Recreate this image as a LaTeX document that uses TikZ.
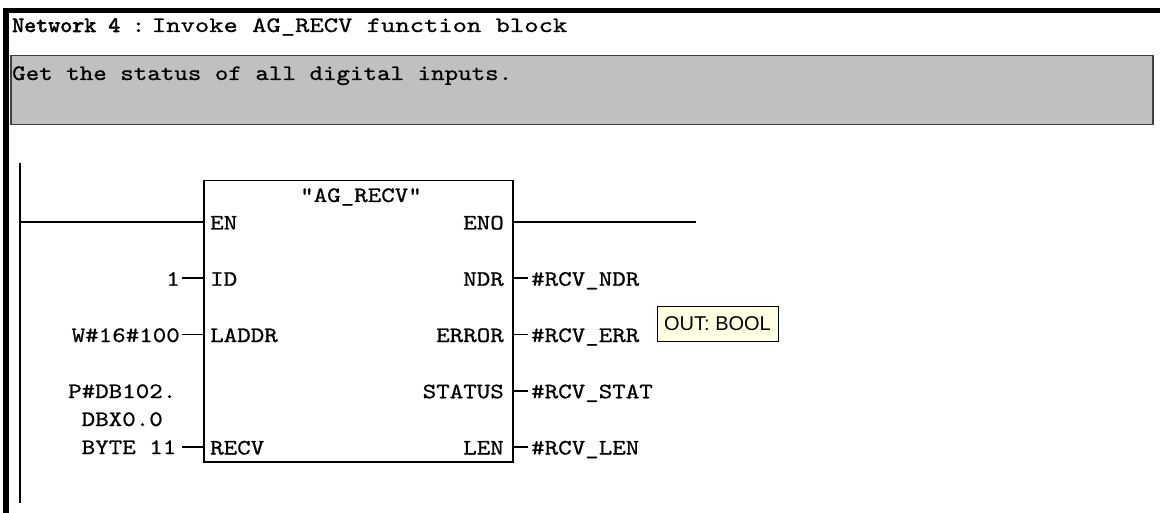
\documentclass[tikz,border=0pt]{standalone}
\usepackage{fontspec}
\newfontfamily\plcfont{lmmono10-regular.otf}[FakeStretch=1.17,FakeBold=0.8]
\newfontfamily\plcwide{lmmono10-regular.otf}[FakeStretch=1.24,FakeBold=0.8]
\newfontfamily\plcbold{lmmono10-regular.otf}[FakeStretch=1.04,FakeBold=2.5]
\setsansfont{Liberation Sans}
\definecolor{tipyellow}{HTML}{FFFFE1}
\definecolor{commentgray}{HTML}{C0C0C0}
\definecolor{framegray}{HTML}{404040}
\tikzset{
  plc/.style={font=\plcfont\fontsize{22}{28}\selectfont, inner sep=0pt},
  pinin/.style={plc, anchor=base west},
  pinout/.style={plc, anchor=base east},
  wire/.style={line width=1.5pt},
}
\begin{document}
\begin{tikzpicture}[x=1pt,y=-1pt]
\useasboundingbox (0,0) rectangle (1160,513);

\fill (3,8) rectangle (1160,13.5);
\fill (3,8) rectangle (9,513);

\node[plc, anchor=base west] (title) at (12,32) {{\plcbold Network 4}\kern11pt{\plcwide :\kern-8pt\ Invoke AG\_RECV function block}};
\node[draw=framegray, line width=1.5pt, fill=commentgray, minimum width=1142pt, minimum height=69pt, anchor=north west] (comment) at (10,55) {};
\node[plc, anchor=base west] (commenttext) at (12,80) {Get the status of all digital inputs.};

\coordinate (railtop) at (20,163);
\coordinate (railbot) at (20,503);
\draw[wire] (railtop) -- (railbot);

\node[draw, wire, minimum width=309pt, minimum height=281pt, anchor=north west, inner sep=0pt] (fb) at (203,180) {};
\node[plc, anchor=base] (fbname) at (361,202) {"AG\_RECV"};

\coordinate (railen) at (20,222);
\coordinate (en) at (203,222);
\coordinate (eno) at (512,222);
\coordinate (enoend) at (696,222);
\draw[wire] (railen) -- (en);
\draw[wire] (eno) -- (enoend);

\coordinate (idstub) at (182,278.25);
\coordinate (id) at (203,278.25);
\coordinate (laddrstub) at (182,334.5);
\coordinate (laddr) at (203,334.5);
\coordinate (recvstub) at (182,447);
\coordinate (recv) at (203,447);
\draw[wire] (idstub) -- (id);
\draw[wire] (laddrstub) -- (laddr);
\draw[wire] (recvstub) -- (recv);

\coordinate (ndr) at (512,278.25);
\coordinate (ndrstub) at (528,278.25);
\coordinate (error) at (512,334.5);
\coordinate (errorstub) at (528,334.5);
\coordinate (status) at (512,390.75);
\coordinate (statusstub) at (528,390.75);
\coordinate (len) at (512,447);
\coordinate (lenstub) at (528,447);
\draw[wire] (ndr) -- (ndrstub);
\draw[wire] (error) -- (errorstub);
\draw[wire] (status) -- (statusstub);
\draw[wire] (len) -- (lenstub);

\node[pinin] (enlabel) at (210,229.5) {EN};
\node[pinin] (idlabel) at (210,285.75) {ID};
\node[pinin] (laddrlabel) at (210,342) {LADDR};
\node[pinin] (recvlabel) at (210,454.5) {RECV};

\node[pinout] (enolabel) at (504,229.5) {ENO};
\node[pinout] (ndrlabel) at (504,285.75) {NDR};
\node[pinout] (errorlabel) at (504,342) {ERROR};
\node[pinout] (statuslabel) at (504,398.25) {STATUS};
\node[pinout] (lenlabel) at (504,454.5) {LEN};

\node[pinout] (idval) at (180,285.75) {1};
\node[pinout] (laddrval) at (180,342) {W\#16\#100};
\node[plc, align=left, anchor=base west] (recvval) at (68,454) {P\#DB102.\\\phantom{P}DBX0.0\\\phantom{P}BYTE 11};

\node[pinin] (ndrval) at (531,285.75) {\#RCV\_NDR};
\node[pinin] (errorval) at (531,342) {\#RCV\_ERR};
\node[pinin] (statusval) at (531,398.25) {\#RCV\_STAT};
\node[pinin] (lenval) at (531,454.5) {\#RCV\_LEN};

\node[draw, fill=tipyellow, line width=1pt, minimum width=121pt, minimum height=34pt, inner sep=0pt, font=\sffamily\fontsize{20}{24}\selectfont] (tip) at (717.5,324) {OUT: BOOL};
\end{tikzpicture}
\end{document}
